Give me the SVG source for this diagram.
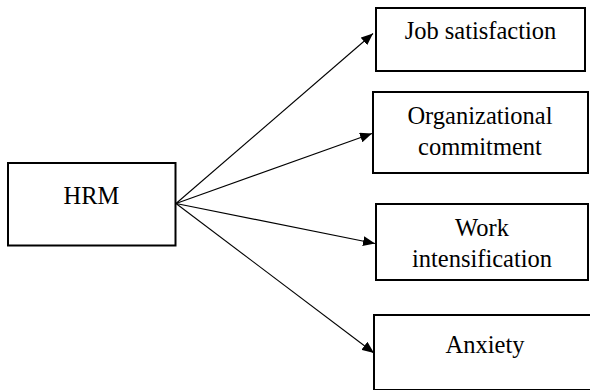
<svg xmlns="http://www.w3.org/2000/svg" width="590" height="390" viewBox="0 0 590 390">
<style>
.box{fill:#fff;stroke:#000;stroke-width:2}
.lbl{font-family:"Liberation Serif","Times New Roman",serif;font-size:24.5px;fill:#000;text-anchor:middle}
.conn{stroke:#000;stroke-width:1.1;fill:none;marker-end:url(#ah)}
</style>
<defs>
<marker id="ah" markerUnits="userSpaceOnUse" markerWidth="12" markerHeight="10" refX="12" refY="5" orient="auto">
<path d="M0,0 L12,5 L0,10 Z" fill="#000"/>
</marker>
</defs>
<rect width="590" height="390" fill="#fff"/>
<g id="connectors">
<line class="conn" x1="176" y1="203.5" x2="373" y2="33.5"/>
<line class="conn" x1="176" y1="203.5" x2="372" y2="133.5"/>
<line class="conn" x1="176" y1="203.5" x2="375" y2="243.5"/>
<line class="conn" x1="176" y1="203.5" x2="374" y2="353"/>
</g>
<g id="hrm">
<rect class="box" x="8" y="163" width="167.5" height="82.5"/>
<text class="lbl" x="91.5" y="204">HRM</text>
</g>
<g id="job-satisfaction">
<rect class="box" x="376" y="8" width="209" height="63"/>
<text class="lbl" x="480.5" y="39">Job satisfaction</text>
</g>
<g id="organizational-commitment">
<rect class="box" x="373" y="92" width="215" height="81"/>
<text class="lbl" x="480" y="123.5">Organizational</text>
<text class="lbl" x="480" y="155">commitment</text>
</g>
<g id="work-intensification">
<rect class="box" x="376" y="204" width="212" height="76"/>
<text class="lbl" x="482" y="235.5">Work</text>
<text class="lbl" x="482" y="266.5">intensification</text>
</g>
<g id="anxiety">
<rect class="box" x="374" y="315" width="220" height="75"/>
<text class="lbl" x="485" y="353">Anxiety</text>
</g>
</svg>
